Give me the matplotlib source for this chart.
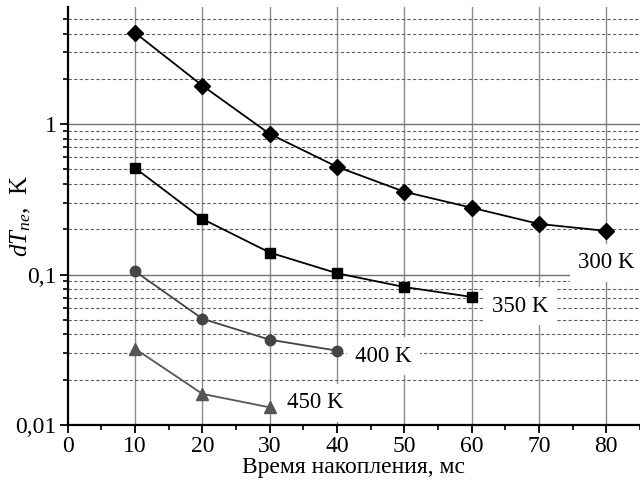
import numpy as np
import matplotlib.pyplot as plt
from matplotlib.ticker import FixedLocator, FuncFormatter, NullFormatter, MultipleLocator

plt.rcParams['font.family'] = ['Liberation Serif', 'DejaVu Serif']
plt.rcParams['mathtext.fontset'] = 'custom'
plt.rcParams['mathtext.rm'] = 'Liberation Serif'
plt.rcParams['mathtext.it'] = 'Liberation Serif:italic'

# Daten
t = [10, 20, 30, 40, 50, 60, 70, 80]
dT_300 = [4.04, 1.80, 0.86, 0.52, 0.355, 0.278, 0.217, 0.195]
dT_350 = [0.51, 0.234, 0.14, 0.102, 0.0826, 0.071]
dT_400 = [0.105, 0.0508, 0.0369, 0.0312]
dT_450 = [0.0321, 0.0161, 0.0131]

series = [
    (dT_300, 'D', 8, 'black', '300 K', (606, 263)),
    (dT_350, 's', 7, 'black', '350 K', (520, 306)),
    (dT_400, 'o', 7.5, '#444444', '400 K', (383, 356)),
    (dT_450, '^', 8, '#555555', '450 K', (315, 403)),
]

fig = plt.figure(figsize=(6.4, 4.91), dpi=100)
ax = fig.add_axes([0.106, 0.1344, 0.894, 0.8513])
ax.set_yscale('log')
ax.set_xlim(0, 85)
ax.set_ylim(0.01, 6.0)

# Gitter
ax.set_axisbelow(True)
for x in range(10, 90, 10):
    ax.axvline(x, color='#8a8a8a', lw=1.0, zorder=0)
for y in [0.1, 1]:
    ax.axhline(y, color='#707070', lw=1.0, zorder=0)
for dec in [0.01, 0.1, 1]:
    for m in range(2, 10):
        v = dec * m
        if v < 6:
            ax.axhline(v, color='#606060', lw=0.8, ls=(0, (3, 2)), zorder=0)

for vals, mk, ms, col, lab, pos in series:
    ax.plot(t[:len(vals)], vals, color=col, marker=mk, ms=ms, lw=1.3, zorder=3)
    # Beschriftung in Pixelkoordinaten
    ax.annotate(lab, xy=(pos[0], 491 - pos[1]), xycoords='figure pixels',
                ha='center', va='center', fontsize=16.5, zorder=4,
                bbox=dict(facecolor='white', edgecolor='none', pad=6))

ax.xaxis.set_major_locator(MultipleLocator(10))
ax.xaxis.set_minor_locator(MultipleLocator(5))
ax.yaxis.set_major_locator(FixedLocator([0.01, 0.1, 1]))
ax.yaxis.set_major_formatter(FuncFormatter(lambda v, p: ('%g' % v).replace('.', ',')))
ax.yaxis.set_minor_locator(FixedLocator([d * m for d in [0.01, 0.1, 1] for m in range(2, 10) if d * m < 6]))
ax.yaxis.set_minor_formatter(NullFormatter())

ax.tick_params(which='major', direction='out', length=6, width=1.3, labelsize=17, pad=2)
ax.tick_params(which='minor', direction='out', length=3.5, width=1.2)
for s in ['top', 'right']:
    ax.spines[s].set_visible(False)
for s in ['left', 'bottom']:
    ax.spines[s].set_linewidth(1.6)

ax.set_xlabel('Время накопления, мс', fontsize=17, labelpad=0)
ax.set_ylabel(r'$dT_{ne}$,  K', fontsize=18)
ax.yaxis.set_label_coords(-0.061, 0.5)

fig.savefig('out.png', dpi=100)
